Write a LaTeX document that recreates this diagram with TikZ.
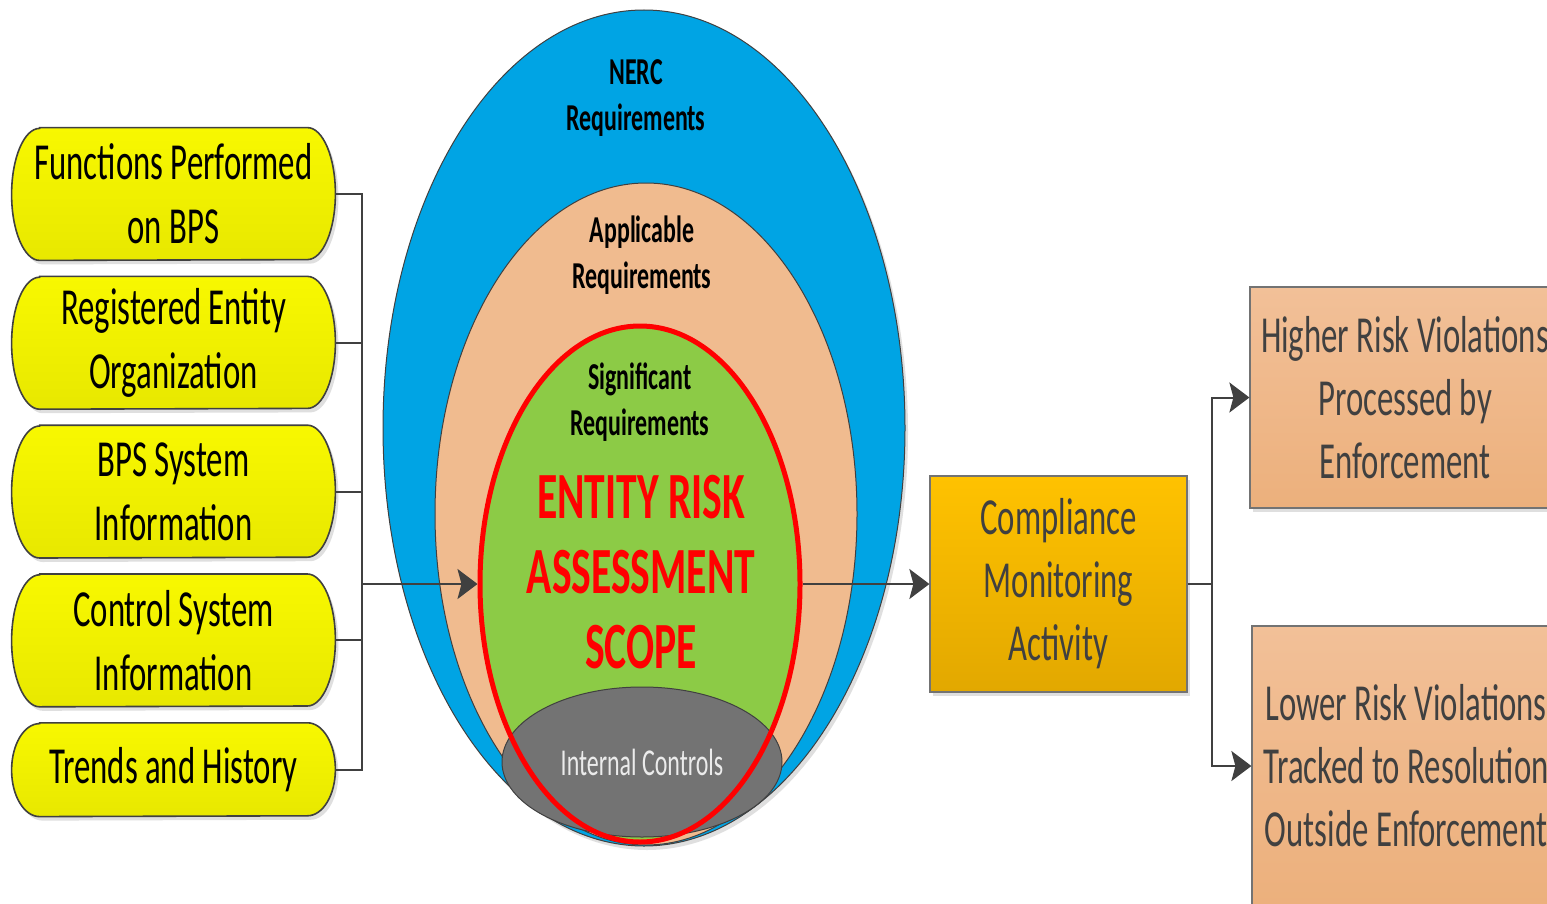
\documentclass[tikz,border=0pt]{standalone}
\usepackage{fontspec}
\setmainfont{Carlito}[FakeStretch=0.63]
\usetikzlibrary{positioning, arrows.meta, shapes.geometric, shadows, backgrounds}

\definecolor{linegray}{RGB}{64,64,64}
\definecolor{nercblue}{RGB}{0,164,228}
\definecolor{applpeach}{RGB}{240,187,143}
\definecolor{siggreen}{RGB}{140,203,70}
\definecolor{ctlgray}{RGB}{115,115,115}
\definecolor{pilltop}{RGB}{248,248,0}
\definecolor{pillbot}{RGB}{232,232,0}
\definecolor{cmatop}{RGB}{255,194,0}
\definecolor{cmabot}{RGB}{226,168,0}
\definecolor{violtop}{RGB}{242,192,152}
\definecolor{violbot}{RGB}{236,176,124}

\begin{document}
\begin{tikzpicture}[
    x=0.5pt, y=-0.5pt,
    node distance=8pt,
    softshadow/.style={drop shadow={shadow xshift=1.5pt, shadow yshift=-2pt, opacity=0.25}},
    input/.style={minimum width=161.5pt, minimum height=66pt, inner sep=0pt, align=center, font=\fontsize{26}{32}\selectfont},
    pill/.style={draw=linegray, line width=0.8pt, top color=pilltop, bottom color=pillbot, softshadow},
    ring/.style={ellipse, inner sep=0pt, draw=linegray, line width=0.5pt},
    req/.style={align=center, font=\bfseries\fontsize{19}{23}\selectfont},
    box/.style={rectangle, inner sep=0pt, align=center, text=linegray, draw=black!55, line width=0.6pt, softshadow, font=\fontsize{26}{31.5}\selectfont},
    link/.style={draw=linegray, line width=1pt},
    arrow/.style={link, -{Stealth[length=10pt, width=15pt, inset=2pt]}}
]
    \useasboundingbox (0,0) rectangle (1547,904);

    % inputs on the left
    \node[input] (fun) at (173.5,194) {Functions Performed\\on BPS};
    \node[input, below=of fun] (reg) {Registered Entity\\Organization};
    \node[input, below=of reg] (bps) {BPS System\\Information};
    \node[input, below=of bps] (ctl) {Control System\\Information};
    \node[input, below=of ctl, minimum height=46.5pt] (trd) {Trends and History};

    \begin{scope}[on background layer]
        \fill[white] (0,0) rectangle (1547,904);
        \foreach \b/\r in {fun/33pt, reg/33pt, bps/33pt, ctl/33pt, trd/23.25pt}
            \draw[pill] ([xshift=14pt]\b.north west) -- ([xshift=-14pt]\b.north east)
                arc[start angle=90, end angle=-90, x radius=14pt, y radius=\r]
                -- ([xshift=14pt]\b.south west)
                arc[start angle=270, end angle=90, x radius=14pt, y radius=\r] -- cycle;
    \end{scope}

    % nested requirement sets
    \node[ring, fill=nercblue, minimum width=261pt, minimum height=418pt, softshadow] (nerc) at (644,428) {};
    \node[ring, fill=applpeach, minimum width=211pt, minimum height=331pt] (appl) at (646,514) {};
    \node[ellipse, fill=siggreen, inner sep=0pt, minimum width=160pt, minimum height=258pt] (sig) at (640,584) {};
    \node[ring, fill=ctlgray, minimum width=140pt, minimum height=75pt, text=black!8, font=\fontsize{19}{23}\selectfont] (ictl) at (642,762) {Internal Controls};
    \node[ellipse, draw=red, line width=2.5pt, inner sep=0pt, minimum width=160pt, minimum height=258pt] (scope) at (640,584) {};

    \node[req] (nercl) at (636,98) {NERC\\Requirements};
    \node[req] (appll) at (642,255) {Applicable\\Requirements};
    \node[req] (sigl) at (640,402) {Significant\\Requirements};
    \node[align=center, text=red, font=\bfseries\fontsize{33}{37.5}\selectfont] (erascope) at (641,572) {ENTITY RISK\\ASSESSMENT\\SCOPE};

    % monitoring and outcomes
    \node[box, top color=cmatop, bottom color=cmabot, minimum width=128.5pt, minimum height=108pt] (cma) at (1058.5,584) {Compliance\\Monitoring\\Activity};
    \node[box, top color=violtop, bottom color=violbot, minimum width=155pt, minimum height=110.5pt] (high) at (1405,397.5) {Higher Risk Violations\\Processed by\\Enforcement};
    \node[box, top color=violtop, bottom color=violbot, minimum width=154pt, minimum height=140pt] (low) at (1406,766) {Lower Risk Violations\\Tracked to Resolution\\Outside Enforcement};

    % connectors
    \coordinate (merge) at (362,584);
    \coordinate (split) at (1212,584);
    \foreach \b in {fun,reg,bps,ctl,trd}
        \draw[link] (\b.east) -| (merge);
    \draw[arrow] (merge) -- (scope.west);
    \draw[arrow] (scope.east) -- (cma.west);
    \draw[link] (cma.east) -- (split);
    \draw[arrow] (split) |- (high.west);
    \draw[arrow] (split) |- (low.west);
\end{tikzpicture}
\end{document}
